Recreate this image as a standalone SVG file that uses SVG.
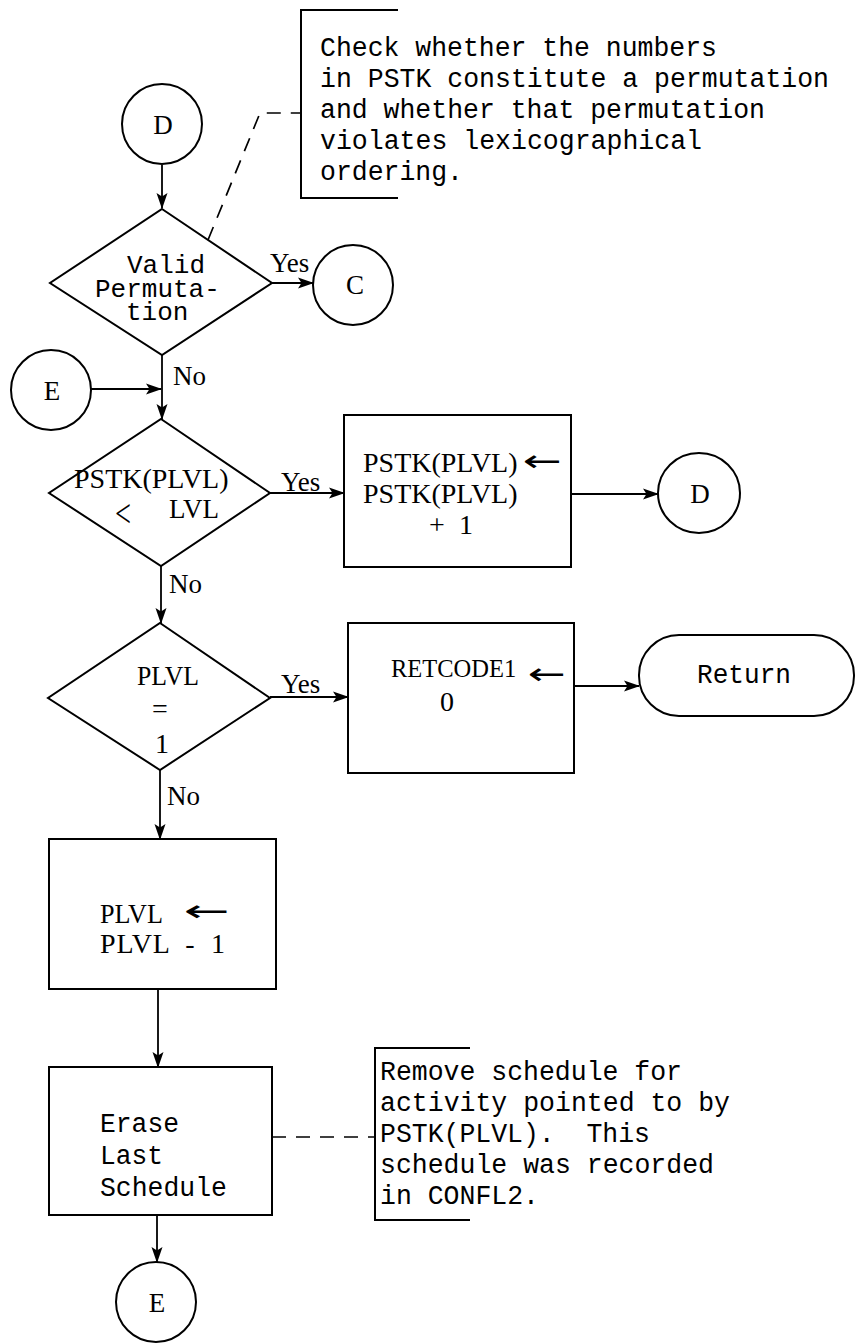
<svg xmlns="http://www.w3.org/2000/svg" width="856" height="1344" viewBox="0 0 856 1344">
<style>
.shape{fill:none;stroke:#000;stroke-width:2}
.conn{fill:none;stroke:#000;stroke-width:1.8}
.dash{fill:none;stroke:#000;stroke-width:1.7;stroke-dasharray:14 10}
.mono{font-family:"Liberation Mono",monospace;font-size:27px;fill:#000;white-space:pre}
.mono26{font-family:"Liberation Mono",monospace;font-size:26px;fill:#000;white-space:pre}
.serif{font-family:"Liberation Serif",serif;font-size:28px;fill:#000;white-space:pre}
.lbl{font-family:"Liberation Serif",serif;font-size:27px;fill:#000}
.circ{font-family:"Liberation Serif",serif;font-size:27px;fill:#000;text-anchor:middle}
.arr{font-family:"DejaVu Sans",sans-serif;font-size:30px;fill:#000}
</style>
<defs>
<marker id="ah" markerUnits="userSpaceOnUse" markerWidth="16" markerHeight="12" refX="15" refY="6" orient="auto">
<path d="M0,0.5 L16,6 L0,11.5 L3.5,6 Z" fill="#000"/>
</marker>
</defs>
<rect width="856" height="1344" fill="#fff"/>

<g id="connD"><circle class="shape" cx="162" cy="124" r="40"/><text class="circ" x="163" y="134">D</text></g>

<g id="note1">
<path class="shape" d="M398,10 L301,10 L301,198 L398,198"/>
<text class="mono" x="320" y="56" textLength="397" lengthAdjust="spacingAndGlyphs">Check whether the numbers</text>
<text class="mono" x="320" y="87" textLength="509" lengthAdjust="spacingAndGlyphs">in PSTK constitute a permutation</text>
<text class="mono" x="320" y="118" textLength="445" lengthAdjust="spacingAndGlyphs">and whether that permutation</text>
<text class="mono" x="320" y="149" textLength="382" lengthAdjust="spacingAndGlyphs">violates lexicographical</text>
<text class="mono" x="320" y="180" textLength="143" lengthAdjust="spacingAndGlyphs">ordering.</text>
</g>

<g id="dec1">
<polygon class="shape" points="162,209 272,283 162,355 50,283"/>
<text class="mono26" x="127" y="273">Valid</text>
<text class="mono26" x="95" y="297">Permuta-</text>
<text class="mono26" x="126" y="320">tion</text>
</g>

<g id="connC"><circle class="shape" cx="353" cy="285" r="40"/><text class="circ" x="355" y="294">C</text></g>

<g id="connE1"><circle class="shape" cx="51" cy="390" r="40"/><text class="circ" x="52" y="400">E</text></g>

<g id="dec2">
<polygon class="shape" points="161,419 270,493 161,566 49,493"/>
<text class="serif" x="74" y="488">PSTK(PLVL)</text>
<text class="serif" x="115" y="527" style="font-size:40px" textLength="16" lengthAdjust="spacingAndGlyphs">&lt;</text>
<text class="serif" x="169" y="518" textLength="50" lengthAdjust="spacingAndGlyphs">LVL</text>
</g>

<g id="box2">
<rect class="shape" x="344" y="415" width="227" height="152"/>
<text class="serif" x="363" y="472">PSTK(PLVL)</text>
<text class="arr" x="523" y="471" textLength="39" lengthAdjust="spacingAndGlyphs">←</text>
<text class="serif" x="363" y="503">PSTK(PLVL)</text>
<text class="serif" x="429" y="534" textLength="44" lengthAdjust="spacing">+ 1</text>
</g>

<g id="connD2"><ellipse class="shape" cx="699" cy="493" rx="41" ry="40"/><text class="circ" x="700" y="503">D</text></g>

<g id="dec3">
<polygon class="shape" points="160,623 270,698 160,770 48,698"/>
<text class="serif" x="137" y="685" textLength="62" lengthAdjust="spacingAndGlyphs">PLVL</text>
<text class="serif" x="152" y="718">=</text>
<text class="serif" x="155" y="753">1</text>
</g>

<g id="box3">
<rect class="shape" x="348" y="623" width="226" height="150"/>
<text class="serif" x="391" y="677" style="font-size:24.5px">RETCODE1</text>
<text class="arr" x="528" y="684" textLength="38" lengthAdjust="spacingAndGlyphs">←</text>
<text class="serif" x="440" y="711">0</text>
</g>

<g id="ret">
<rect class="shape" x="639" y="635" width="215" height="81" rx="40" ry="40"/>
<text class="mono" x="697" y="683" textLength="94" lengthAdjust="spacingAndGlyphs">Return</text>
</g>

<g id="box4">
<rect class="shape" x="49" y="839" width="227" height="150"/>
<text class="serif" x="100" y="923" textLength="63" lengthAdjust="spacingAndGlyphs">PLVL</text>
<text class="arr" x="184" y="921" textLength="46" lengthAdjust="spacingAndGlyphs">←</text>
<text class="serif" x="100" y="953" textLength="125" lengthAdjust="spacing">PLVL  -  1</text>
</g>

<g id="box5">
<rect class="shape" x="49" y="1067" width="223" height="148"/>
<text class="mono" x="100" y="1132" textLength="79" lengthAdjust="spacingAndGlyphs">Erase</text>
<text class="mono" x="100" y="1164" textLength="63" lengthAdjust="spacingAndGlyphs">Last</text>
<text class="mono" x="100" y="1196" textLength="127" lengthAdjust="spacingAndGlyphs">Schedule</text>
</g>

<g id="note2">
<path class="shape" d="M470,1048 L375,1048 L375,1220 L470,1220"/>
<text class="mono" x="380" y="1080" textLength="302" lengthAdjust="spacingAndGlyphs">Remove schedule for</text>
<text class="mono" x="380" y="1111" textLength="350" lengthAdjust="spacingAndGlyphs">activity pointed to by</text>
<text class="mono" x="380" y="1142" textLength="270" lengthAdjust="spacingAndGlyphs">PSTK(PLVL).  This</text>
<text class="mono" x="380" y="1173" textLength="334" lengthAdjust="spacingAndGlyphs">schedule was recorded</text>
<text class="mono" x="380" y="1204" textLength="159" lengthAdjust="spacingAndGlyphs">in CONFL2.</text>
</g>

<g id="connE2"><circle class="shape" cx="156" cy="1302" r="40"/><text class="circ" x="157" y="1312">E</text></g>

<g id="connectors">
<path class="conn" d="M162,165 L162,208" marker-end="url(#ah)"/>
<path class="conn" d="M272,283 L313,283" marker-end="url(#ah)"/>
<path class="conn" d="M162,355 L162,419" marker-end="url(#ah)"/>
<path class="conn" d="M91,389 L161,389" marker-end="url(#ah)"/>
<path class="conn" d="M270,493 L344,493" marker-end="url(#ah)"/>
<path class="conn" d="M571,494 L658,494" marker-end="url(#ah)"/>
<path class="conn" d="M161,566 L161,623" marker-end="url(#ah)"/>
<path class="conn" d="M270,697 L348,697" marker-end="url(#ah)"/>
<path class="conn" d="M574,686 L639,686" marker-end="url(#ah)"/>
<path class="conn" d="M160,770 L160,839" marker-end="url(#ah)"/>
<path class="conn" d="M158,989 L158,1067" marker-end="url(#ah)"/>
<path class="conn" d="M157,1215 L157,1262" marker-end="url(#ah)"/>
<path class="dash" d="M208,240 L260,113 L301,113"/>
<path class="dash" d="M272,1137 L375,1137"/>
<text class="lbl" x="270" y="272">Yes</text>
<text class="lbl" x="173" y="385">No</text>
<text class="lbl" x="281" y="491">Yes</text>
<text class="lbl" x="169" y="593">No</text>
<text class="lbl" x="281" y="693">Yes</text>
<text class="lbl" x="167" y="805">No</text>
</g>
</svg>
